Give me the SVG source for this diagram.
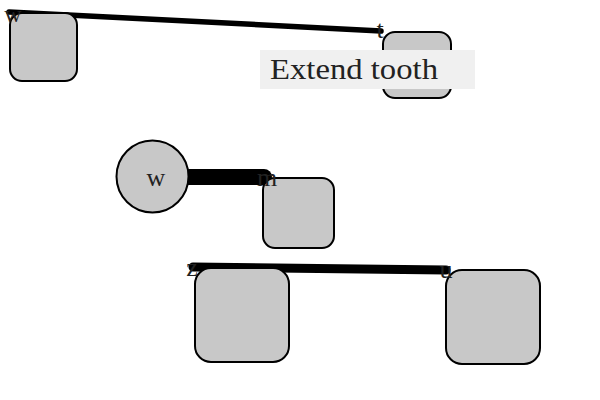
<svg xmlns="http://www.w3.org/2000/svg" width="600" height="400" viewBox="0 0 600 400">
<style>
.node{fill:#c8c8c8;stroke:#000;stroke-width:2}
.edge{stroke:#000;stroke-linecap:round;fill:none}
.lbl{font-family:"Liberation Serif","DejaVu Serif",serif;font-size:26px;fill:#222;text-anchor:middle}
</style>
<rect width="600" height="400" fill="#fff"/>
<g id="connectors">
<line class="edge" x1="9" y1="12" x2="381" y2="31" stroke-width="5.5"/>
<line class="edge" x1="160" y1="177" x2="264" y2="177" stroke-width="16"/>
<line class="edge" x1="193" y1="267" x2="446" y2="270" stroke-width="9"/>
</g>
<g id="node-w1"><rect class="node" x="10" y="13" width="67" height="68" rx="12"/></g>
<g id="node-t"><rect class="node" x="383" y="32" width="68" height="66" rx="12"/></g>
<g id="node-w2"><circle class="node" cx="152.5" cy="176.5" r="36"/><text class="lbl" x="156" y="186">w</text></g>
<g id="node-m"><rect class="node" x="263" y="178" width="71" height="70" rx="12"/></g>
<g id="node-z"><rect class="node" x="195" y="268" width="94" height="94" rx="16"/></g>
<g id="node-u"><rect class="node" x="446" y="270" width="94" height="94" rx="16"/></g>
<g id="labels">
<text class="lbl" x="13" y="22" style="font-size:24px">w</text>
<text class="lbl" x="380" y="38">t</text>
<text class="lbl" x="267" y="186">m</text>
<text class="lbl" x="192" y="276">z</text>
<text class="lbl" x="446" y="278">u</text>
</g>
<g id="caption">
<rect x="260" y="50" width="215" height="39" fill="#f0f0f0"/>
<text x="270" y="79" font-family="Liberation Serif, DejaVu Serif, serif" font-size="29" fill="#222" textLength="168" lengthAdjust="spacingAndGlyphs">Extend tooth</text>
</g>
</svg>
